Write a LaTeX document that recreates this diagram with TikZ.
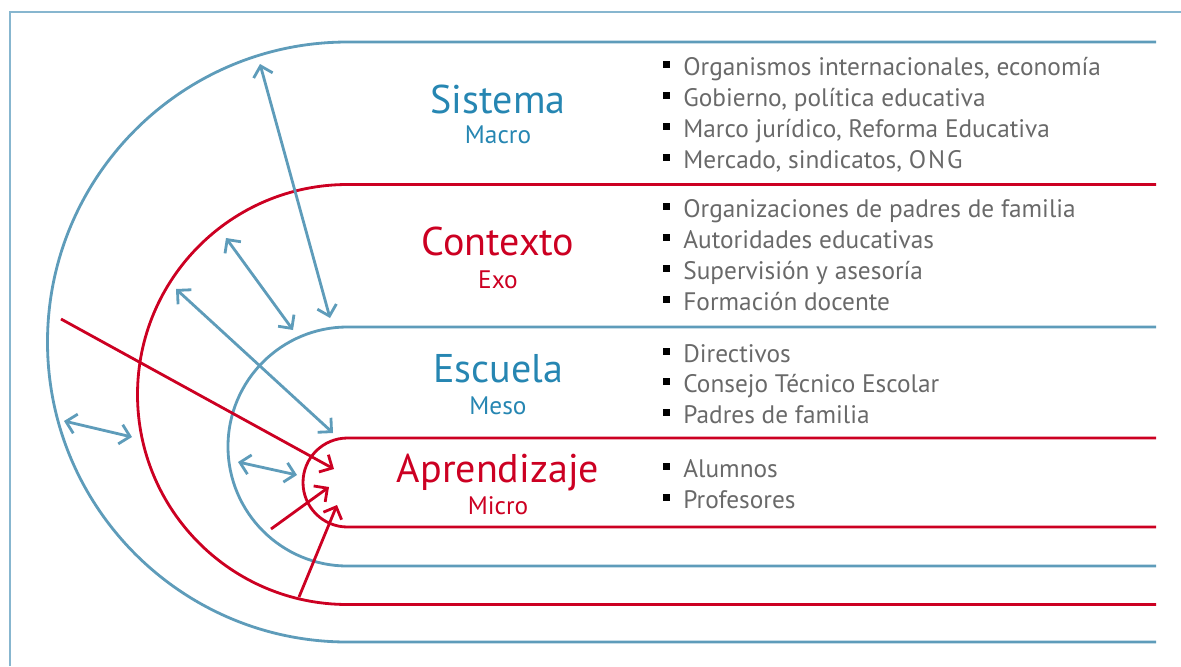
\documentclass[tikz,border=0pt]{standalone}
\usepackage{fontspec}
\setmainfont{PT Sans}
\usetikzlibrary{arrows.meta}
\definecolor{lineblue}{RGB}{94,156,186}
\definecolor{titleblue}{RGB}{38,134,178}
\definecolor{redline}{RGB}{204,0,34}
\definecolor{framecol}{RGB}{135,182,207}
\definecolor{grayt}{RGB}{105,105,105}
\newcommand\bul{\makebox[14.2pt][l]{\raisebox{5.2pt}{\textcolor{black}{\rule{4.8pt}{4.8pt}}}}}
\tikzset{
  title/.style={anchor=base, inner sep=0pt, font=\fontsize{28.5}{32}\selectfont},
  sub/.style={anchor=base, inner sep=0pt, font=\fontsize{18}{20}\selectfont},
  entry/.style={anchor=base west, inner sep=0pt, text=grayt, font=\fontsize{18}{20}\selectfont},
  link/.style={{Straight Barb[length=7pt,width=14pt]}-{Straight Barb[length=7pt,width=14pt]}, lineblue},
  push/.style={-{Straight Barb[length=7pt,width=14pt]}, redline}}

\begin{document}
\begin{tikzpicture}[x=0.025cm, y=-0.025cm, line width=2pt]
    \useasboundingbox (0,0) rectangle (1181,666);
    \draw[framecol, line width=1.4pt] (10,666) -- (10,12) -- (1181,12);

    % bands
    \draw[lineblue] (1156,42) -- (347.5,42) arc (270:90:300) -- (1156,642);
    \draw[redline] (1156,184.5) -- (347.5,184.5) arc (270:90:210) -- (1156,604.5);
    \draw[lineblue] (1156,327) -- (347.5,327) arc (270:90:119.5) -- (1156,566);
    \draw[redline] (1156,438) -- (347.5,438) arc (270:90:44.5) -- (1156,527);

    \node[title, text=titleblue] (sistema) at (498,113) {Sistema};
    \node[sub, text=titleblue] (macro) at (498,143) {Macro};
    \node[title, text=redline] (contexto) at (498,255) {Contexto};
    \node[sub, text=redline] (exo) at (498,288) {Exo};
    \node[title, text=titleblue] (escuela) at (498,382) {Escuela};
    \node[sub, text=titleblue] (meso) at (498,414) {Meso};
    \node[title, text=redline] (aprendizaje) at (498,482) {Aprendizaje};
    \node[sub, text=redline] (micro) at (498,514) {Micro};

    \foreach \t [count=\i] in {{Organismos internacionales, economía}, {Gobierno, política educativa},
        {Marco jurídico, Reforma Educativa}, {Mercado, sindicatos, {\addfontfeature{LetterSpace=8}ONG}}}
        \node[entry] (sis-\i) at (662,{75+31*(\i-1)}) {\bul\t};
    \foreach \t [count=\i] in {Organizaciones de padres de familia, Autoridades educativas,
        Supervisión y asesoría, Formación docente}
        \node[entry] (con-\i) at (662,{217+31*(\i-1)}) {\bul\t};
    \foreach \t [count=\i] in {Directivos, Consejo Técnico Escolar, Padres de familia}
        \node[entry] (esc-\i) at (662,{362+30.5*(\i-1)}) {\bul\t};
    \foreach \t [count=\i] in {Alumnos, Profesores}
        \node[entry] (apr-\i) at (662,{477+31*(\i-1)}) {\bul\t};

    % arrow ends
    \coordinate (s1) at (260,64);   \coordinate (s2) at (330,318);
    \coordinate (c1) at (226,238);  \coordinate (c2) at (293,330);
    \coordinate (e1) at (176,289);  \coordinate (e2) at (333,433);
    \coordinate (l1) at (64,421);   \coordinate (l2) at (132,437);
    \coordinate (m1) at (238,462);  \coordinate (m2) at (297,475);
    \coordinate (r1) at (61,319);   \coordinate (r2) at (334,469);
    \coordinate (r3) at (271,529);  \coordinate (r4) at (329,487);
    \coordinate (r5) at (299,597);  \coordinate (r6) at (337,505);

    \draw[link] (s1) -- (s2);
    \draw[link] (c1) -- (c2);
    \draw[link] (e1) -- (e2);
    \draw[link] (l1) -- (l2);
    \draw[link] (m1) -- (m2);
    \draw[push] (r1) -- (r2);
    \draw[push] (r3) -- (r4);
    \draw[push] (r5) -- (r6);
\end{tikzpicture}
\end{document}
